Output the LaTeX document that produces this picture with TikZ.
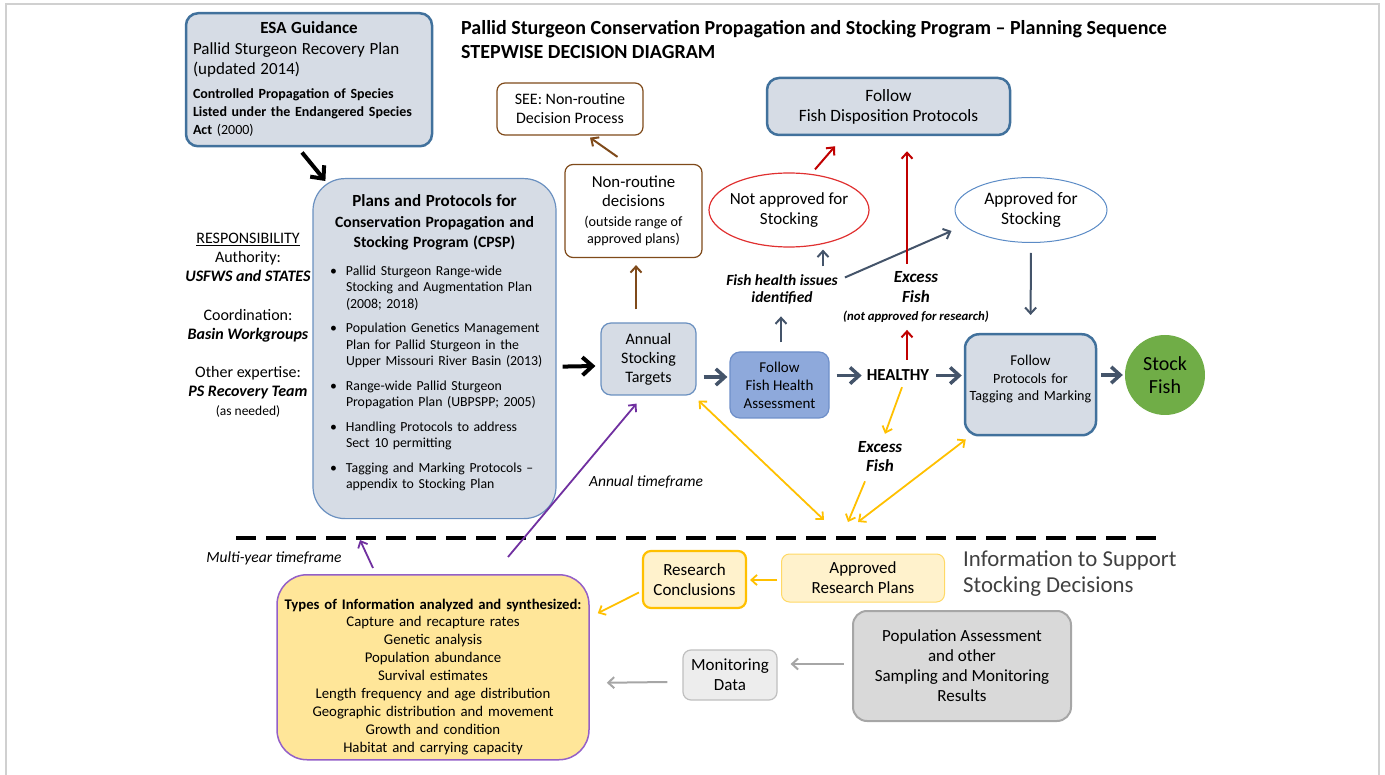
\documentclass[tikz,border=0pt]{standalone}
\usepackage{fontspec}
\setmainfont{Carlito}
\usetikzlibrary{arrows.meta,positioning,shapes.geometric,calc}

\definecolor{boxfill}{HTML}{D6DCE5}
\definecolor{boxline}{HTML}{41719C}
\definecolor{thinline}{HTML}{6A90C0}
\definecolor{slate}{HTML}{44546A}
\definecolor{brownc}{HTML}{7F4A1A}
\definecolor{redc}{HTML}{C00000}
\definecolor{ellred}{HTML}{E03030}
\definecolor{ellblue}{HTML}{5B8BC6}
\definecolor{amber}{HTML}{FFC000}
\definecolor{purp}{HTML}{7030A0}
\definecolor{typesline}{HTML}{9460C8}
\definecolor{healthfill}{HTML}{8EA9DB}
\definecolor{healthline}{HTML}{6E8FC9}
\definecolor{stockgreen}{HTML}{70AD47}
\definecolor{typesfill}{HTML}{FFE699}
\definecolor{palefill}{HTML}{FFF2CC}
\definecolor{paleline}{HTML}{FFD966}
\definecolor{popfill}{HTML}{D9D9D9}
\definecolor{popline}{HTML}{A6A6A6}
\definecolor{monfill}{HTML}{EDEDED}
\definecolor{monline}{HTML}{BFBFBF}
\definecolor{framec}{HTML}{D0D0D0}
\definecolor{infogray}{HTML}{404040}

\newcommand{\fsz}[2]{\fontsize{#1}{#2}\selectfont}

\begin{document}
\begin{tikzpicture}[x=1pt,y=-1pt,
    >={Straight Barb[length=2pt 2,width=4pt 3.5]},
    bluebox/.style={draw=boxline,line width=2.5pt,fill=boxfill,rounded corners=12pt,align=center},
    softbox/.style={draw=thinline,line width=1.2pt,fill=boxfill,rounded corners=10pt,align=center},
    brownbox/.style={draw=brownc,line width=1.2pt,fill=white,rounded corners=8pt,align=center},
    lbl/.style={font=\bfseries\itshape\fsz{15.5}{17},align=center,inner sep=1pt},
    timelbl/.style={font=\itshape\fsz{15.5}{17},inner sep=1pt},
    arr/.style={->,line width=3.5pt,slate},
    thinarr/.style={->,line width=2pt,slate},
    blackarr/.style={->,line width=4pt,black},
    redarr/.style={->,line width=2pt,redc},
    brownarr/.style={->,line width=2pt,brownc},
    amberarr/.style={->,line width=1.8pt,amber},
    purparr/.style={->,line width=1.8pt,purp},
    grayarr/.style={->,line width=2pt,popline}]

       \useasboundingbox (0,0) rectangle (1385,775);
       \draw[framec,line width=1.5pt] (6,782) -- (6,4) -- (1379,4) -- (1379,782);

       % title
       \node[anchor=base west,align=left,inner sep=0pt,font=\bfseries\fsz{20}{24}] (title) at (461,59)
            {Pallid Sturgeon Conservation Propagation and Stocking Program -- Planning Sequence\\STEPWISE DECISION DIAGRAM};

       % guidance and plans
       \node[bluebox,anchor=north,align=left,inner xsep=7pt,inner ysep=3pt,text width=232pt,
             text height=17pt,text depth=110pt,font=\fsz{14}{18}] (esa) at (309,12)
            {\makebox[\linewidth]{\bfseries\fsz{17}{18}ESA Guidance}\\[3pt]
             {\fsz{17}{18}Pallid Sturgeon Recovery Plan}\\[2pt]
             {\fsz{17}{18}(updated 2014)}\\[6pt]
             {\bfseries Controlled Propagation of Species}\\
             {\bfseries Listed under the Endangered Species}\\
             {\bfseries Act} (2000)};

       \node[softbox,anchor=north,align=left,rounded corners=32pt,inner xsep=8pt,inner ysep=10pt,
             text width=227pt,text height=17.5pt,text depth=302.5pt,font=\fsz{13.8}{16.5}] (cpsp) at (434.5,178)
            {\makebox[\linewidth]{\bfseries\fsz{17}{16.5}Plans and Protocols for}\\[4.5pt]
             \makebox[\linewidth]{\bfseries\fsz{15.7}{16.5}Conservation Propagation and}\\[3.5pt]
             \makebox[\linewidth]{\bfseries\fsz{15.7}{16.5}Stocking Program (CPSP)}\\[11.5pt]
             \hspace*{9pt}\makebox[16pt][l]{\textbullet}Pallid Sturgeon Range-wide\\
             \hspace*{25pt}Stocking and Augmentation Plan\\
             \hspace*{25pt}(2008; 2018)\\[8pt]
             \hspace*{9pt}\makebox[16pt][l]{\textbullet}Population Genetics Management\\
             \hspace*{25pt}Plan for Pallid Sturgeon in the\\
             \hspace*{25pt}Upper Missouri River Basin (2013)\\[8pt]
             \hspace*{9pt}\makebox[16pt][l]{\textbullet}Range-wide Pallid Sturgeon\\
             \hspace*{25pt}Propagation Plan (UBPSPP; 2005)\\[8pt]
             \hspace*{9pt}\makebox[16pt][l]{\textbullet}Handling Protocols to address\\
             \hspace*{25pt}Sect 10 permitting\\[8pt]
             \hspace*{9pt}\makebox[16pt][l]{\textbullet}Tagging and Marking Protocols --\\
             \hspace*{25pt}appendix to Stocking Plan};

       \node[anchor=base,align=center,inner sep=0pt,font=\fsz{16}{19}] (resp) at (248,415.5)
            {\underline{RESPONSIBILITY}\\Authority:\\\textbf{\textit{USFWS and STATES}}\\[20pt]
             Coordination:\\\textbf{\textit{Basin Workgroups}}\\[19pt]
             Other expertise:\\\textbf{\textit{PS Recovery Team}}\\{\fsz{13.5}{19}(as needed)}};

       % decision sequence
       \node[softbox,minimum width=95pt,minimum height=72pt,font=\fsz{16}{19}] (annual) at (648.5,359)
            {Annual\\Stocking\\Targets};
       \node[brownbox,minimum width=137pt,minimum height=93pt,font=\fsz{14.2}{16.5}] (nonroutine) at (633.5,211)
            {{\fsz{16.8}{16.5}Non-routine}\\[2.5pt]{\fsz{16.8}{16.5}decisions}\\[3.5pt](outside range of\\approved plans)};
       \node[brownbox,minimum width=146pt,minimum height=52pt,font=\fsz{16}{19}] (see) at (570,109)
            {SEE: Non-routine\\Decision Process};
       \node[draw=healthline,line width=1.2pt,fill=healthfill,rounded corners=10pt,align=center,
             minimum width=99pt,minimum height=66pt,font=\fsz{15}{18}] (health) at (779.5,385)
            {Follow\\Fish Health\\Assessment};
       \node[lbl,anchor=base] (issues) at (782,302.5) {Fish health issues\\identified};
       \node[ellipse,draw=ellred,line width=1.2pt,fill=white,inner xsep=-6pt,inner ysep=0pt,minimum width=160pt,
             minimum height=74pt,align=center,font=\fsz{17}{20}] (notapp) at (789,210) {Not approved for\\Stocking};
       \node[bluebox,minimum width=243pt,minimum height=57pt,font=\fsz{17.3}{20}] (disp) at (888.5,106.5)
            {Follow\\Fish Disposition Protocols};
       \node[ellipse,draw=ellblue,line width=1pt,fill=white,inner sep=0pt,minimum width=152pt,
             minimum height=65pt,align=center,font=\fsz{17.5}{20}] (approved) at (1031,210) {Approved for\\Stocking};
       \node[anchor=base,inner sep=2pt,font=\bfseries\fsz{16.8}{20}] (healthy) at (898,381) {HEALTHY};
       \node[lbl,anchor=base,font=\bfseries\itshape\fsz{17}{20}] (excessA) at (916,321)
            {Excess\\Fish\\[-2pt]{\fsz{12.8}{20}(not approved for research)}};
       \node[lbl,anchor=base,font=\bfseries\itshape\fsz{17}{20}] (excessB) at (880,472) {Excess\\Fish};
       \node[bluebox,anchor=north,rounded corners=14pt,inner xsep=4pt,inner ysep=5pt,text width=123pt,
             text height=26.5pt,text depth=64.5pt,font=\fsz{14.1}{17.5}] (tagging) at (1030.5,333)
            {{\fsz{15}{17.5}Follow}\\Protocols for\\Tagging and Marking};
       \node[circle,fill=stockgreen,minimum size=80pt,inner sep=0pt,align=center,font=\fsz{20}{23}] (stock) at (1165,375)
            {Stock\\Fish};
       \node[timelbl,anchor=base] (annualtf) at (646,486) {Annual timeframe};
       \node[timelbl,anchor=base] (multitf) at (274,562) {Multi-year timeframe};

       % information
       \draw[line width=4pt,dash pattern=on 20pt off 10pt] (236,538) -- (1160,538);
       \node[anchor=base west,align=left,inner sep=0pt,text=infogray,font=\fsz{22.8}{26}] (info) at (963,592.5)
            {Information to Support\\Stocking Decisions};
       \node[draw=amber,line width=2.2pt,fill=palefill,rounded corners=8pt,align=center,
             minimum width=103pt,minimum height=57pt,font=\fsz{17}{20}] (research) at (694.5,579.5)
            {Research\\Conclusions};
       \node[draw=paleline,line width=1pt,fill=palefill,rounded corners=8pt,align=center,
             minimum width=163pt,minimum height=48pt,font=\fsz{17}{20}] (aplans) at (863,578)
            {Approved\\Research Plans};
       \node[draw=popline,line width=2pt,fill=popfill,rounded corners=14pt,align=center,
             minimum width=218pt,minimum height=110pt,font=\fsz{17}{20}] (pop) at (962,666)
            {Population Assessment\\and other\\Sampling and Monitoring\\Results};
       \node[draw=monline,line width=1.2pt,fill=monfill,rounded corners=8pt,align=center,
             minimum width=94pt,minimum height=50pt,font=\fsz{17}{20}] (mon) at (730,675)
            {Monitoring\\Data};
       \node[draw=typesline,line width=1.5pt,fill=typesfill,rounded corners=30pt,anchor=north,
             inner xsep=3pt,inner ysep=5pt,text width=306pt,align=center,
             text height=29.5pt,text depth=145.5pt,font=\fsz{14.8}{18}] (types) at (433,574)
            {{\bfseries\fsz{14.7}{18}Types of Information analyzed and synthesized:}\\[-1pt]
             Capture and recapture rates\\Genetic analysis\\Population abundance\\Survival estimates\\
             Length frequency and age distribution\\Geographic distribution and movement\\
             Growth and condition\\Habitat and carrying capacity};

       \coordinate (hubL) at (824,520);
       \coordinate (hubM) at (848,522);
       \coordinate (hubR) at (858,522);
       \coordinate (annualtail) at (508,557);

       % connectors
       \draw[blackarr] ($(esa.south)+(-7,5)$) -- ($(cpsp.north west)+(13,3)$);
       \draw[blackarr] ($(cpsp.east)+(6,18)$) -- ($(annual.west)+(-5,7)$);
       \draw[brownarr] ($(annual.north)+(-12.5,-13)$) -- ($(nonroutine.south)+(2.5,7)$);
       \draw[brownarr] ($(nonroutine.north)+(-16,-7)$) -- ($(see.south)+(20,2)$);
       \draw[arr] ($(annual.east)+(7,18)$) -- ($(health.west)+(-2,-8)$);
       \draw[thinarr] ($(health.north)+(1.5,-9)$) -- ++(0,-26);
       \draw[thinarr] ($(issues.north)+(41,-7)$) -- ($(notapp.south)+(34,2)$);
       \draw[thinarr] ($(issues.east)+(6,-12)$) -- ($(approved.west)+(-3,21)$);
       \draw[redarr] ($(notapp.north)+(26,-3)$) -- ($(disp.south)+(-53.5,10)$);
       \draw[redarr] ($(healthy.north)+(9,-8)$) -- ++(0,-30);
       \draw[redarr] ($(excessA.north)+(-9,-7)$) -- ($(disp.south)+(18.5,15)$);
       \draw[thinarr,shorten <=10pt,shorten >=18pt] (approved.south) -- (tagging.north);
       \draw[arr,shorten <=7pt,shorten >=3pt] (health.east |- healthy.west) -- (healthy.west);
       \draw[arr,shorten <=5pt,shorten >=2pt] (healthy.east) -- (tagging.west |- healthy.east);
       \draw[arr,shorten <=4pt,shorten >=2pt] (tagging.east |- stock.west) -- (stock.west);

       \draw[amberarr] ($(healthy.south)+(4,4)$) -- ($(excessB.north)+(5,-6)$);
       \draw[amberarr] ($(excessB.south)+(-15,8)$) -- (hubM);
       \draw[amberarr,<->] ($(tagging.south west)+(2,3)$) -- (hubR);
       \draw[amberarr,<->] ($(annual.south east)+(2,5)$) -- (hubL);
       \draw[purparr] (annualtail) -- ($(annual.south)+(-12,8)$);
       \draw[purparr] ($(types.north)+(-60,-6)$) -- ++(-13,-28);

       \draw[amberarr] ($(aplans.west)+(-4,2)$) -- ($(research.east)+(3,0.5)$);
       \draw[amberarr] ($(research.west)+(-3,13)$) -- ($(types.east)+(8,-54)$);
       \draw[grayarr] ($(pop.west)+(-8,-2)$) -- ($(mon.east)+(13,-11)$);
       \draw[grayarr] ($(mon.west)+(-15,7)$) -- ($(types.east)+(17,15.5)$);
\end{tikzpicture}
\end{document}
